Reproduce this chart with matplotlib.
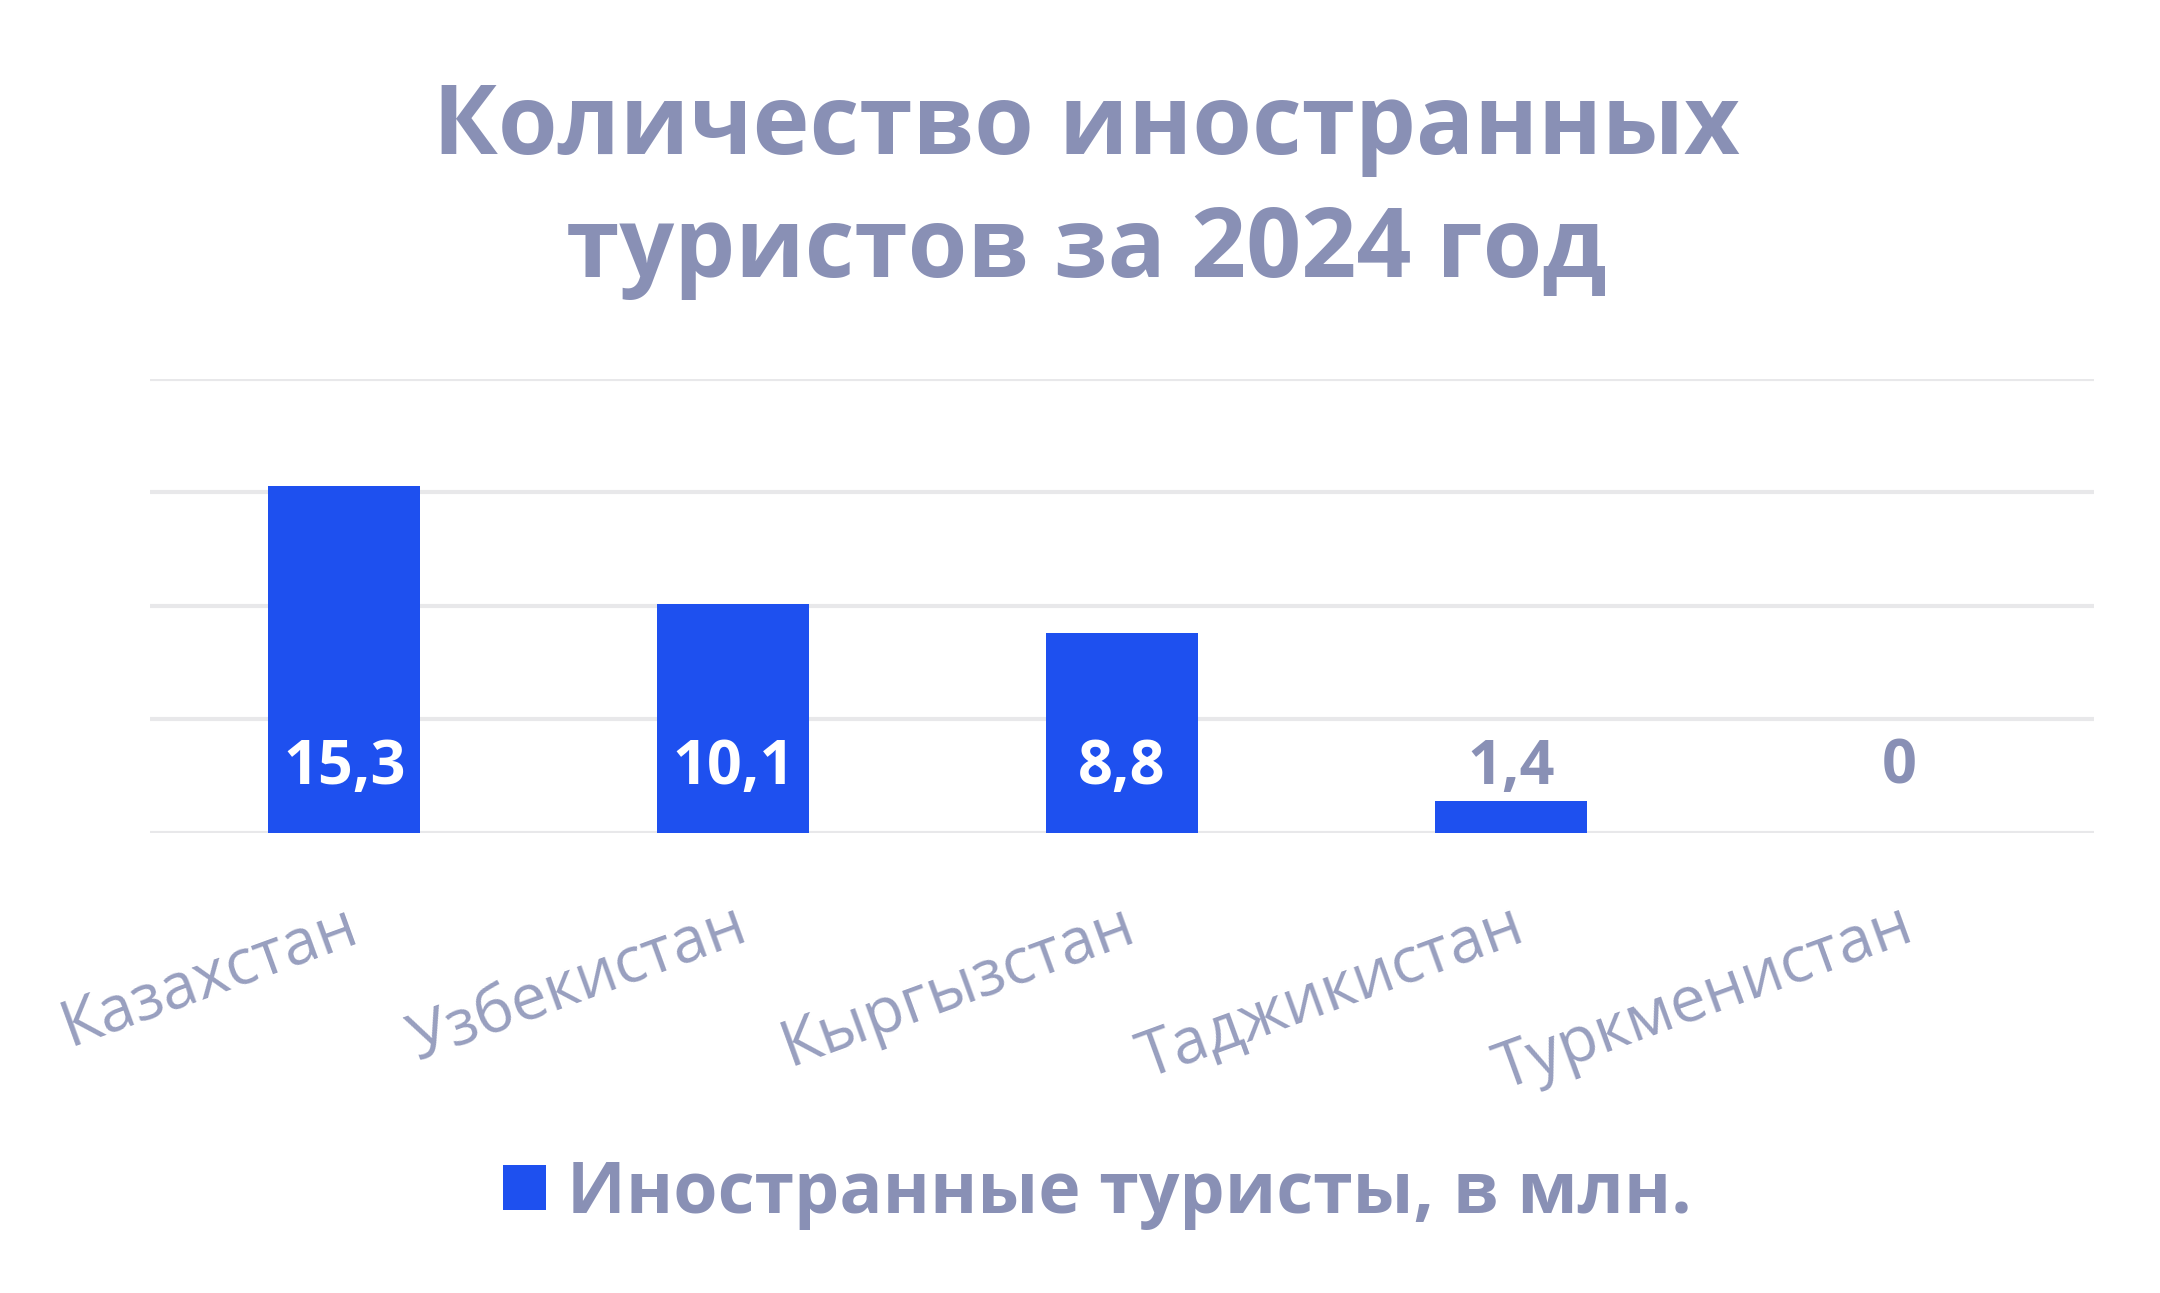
import matplotlib.pyplot as plt
from matplotlib.patches import Patch

countries = ['Казахстан', 'Узбекистан', 'Кыргызстан', 'Таджикистан', 'Туркменистан']
tourists = [15.3, 10.1, 8.8, 1.4, 0]
value_labels = ['15,3', '10,1', '8,8', '1,4', '0']

title = 'Количество иностранных\nтуристов за 2024 год'
series_name = 'Иностранные туристы, в млн.'

bar_color = '#1e50ef'
title_color = '#8990b5'
tick_color = '#989fbf'
grid_color = '#e8e8ea'

plt.rcParams['font.family'] = ['Open Sans', 'DejaVu Sans']

fig = plt.figure(figsize=(21.6, 12.93), dpi=100)
ax = fig.add_axes([0.0694, 0.356, 0.900, 0.351])

x = list(range(len(countries)))
ax.bar(x, tourists, width=0.39, color=bar_color, zorder=3)

ax.set_xlim(-0.5, len(countries) - 0.5)
ax.set_ylim(0, 20)
ax.set_yticks([0, 5, 10, 15, 20])
ax.yaxis.grid(True, color=grid_color, linewidth=3, zorder=0)
ax.tick_params(axis='y', left=False, labelleft=False)
ax.tick_params(axis='x', bottom=False, pad=40)
for s in ax.spines.values():
    s.set_visible(False)

ax.set_xticks(x)
ax.set_xticklabels(countries, rotation=20, ha='right', rotation_mode='anchor',
                   fontsize=46, color=tick_color)

# value labels sit at a fixed height near the base
for xi, v, lab in zip(x, tourists, value_labels):
    inside = v > 3
    ax.text(xi, 2.85, lab, ha='center', va='center', fontsize=44, fontweight='bold',
            color='white' if inside else title_color, zorder=4)

fig.text(0.503, 0.853, title, ha='center', va='center', fontsize=69.5,
         fontweight='bold', color=title_color, linespacing=1.36)

handle = Patch(facecolor=bar_color, edgecolor='none')
leg = fig.legend([handle], [series_name], loc='center', bbox_to_anchor=(0.508, 0.0766),
                 frameon=False, fontsize=51.5, handlelength=0.6, handleheight=0.6,
                 handletextpad=0.3)
for t in leg.get_texts():
    t.set_color(title_color)
    t.set_fontweight('bold')

fig.savefig('out.png', dpi=100, facecolor='white')
